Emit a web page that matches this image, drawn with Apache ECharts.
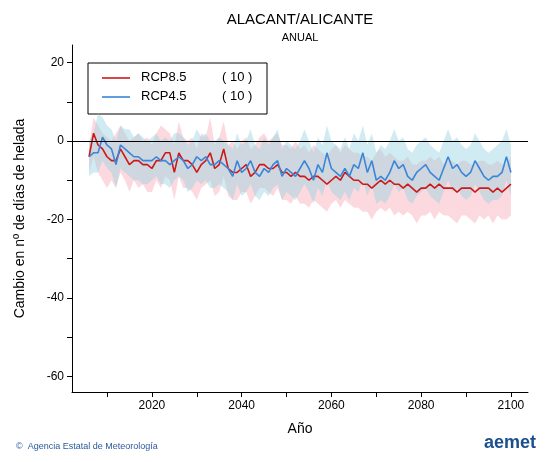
<!DOCTYPE html><html><head><meta charset="utf-8"><script src="https://cdn.jsdelivr.net/npm/echarts@6/dist/echarts.min.js"></script></head><body style="margin:0"><div id="c" style="width:550px;height:462px"></div><script>
const years=[];for(let y=2006;y<=2100;y++)years.push(y);
const r85=[-4,2,-1,-2,-4,-5,-5,-2,-4,-6,-5,-5,-6,-6,-7,-5,-5,-3,-3,-8,-3,-5,-5,-6,-8,-6,-5,-3,-7,-6,-2,-7,-8,-8,-7,-6,-9,-8,-6,-6,-7,-7,-6,-8,-8,-9,-8,-9,-9,-10,-9,-9,-10,-11,-10,-9,-10,-8,-9,-10,-10,-11,-11,-12,-11,-10,-11,-10,-11,-11,-12,-11,-12,-13,-12,-12,-11,-12,-11,-12,-12,-12,-13,-12,-12,-12,-13,-12,-12,-12,-13,-12,-13,-12,-11];
const r85hi=[-1,6,4,2,1,0,2,4,2,0,1,2,0,1,-1,2,4,3,2,-1,5,1,0,1,-2,2,1,6,-1,1,5,-1,0,-2,0,1,-2,-1,1,2,0,1,2,-1,-1,-2,0,-2,-1,-3,-1,-2,-3,-4,-2,-1,-3,-1,-2,-3,-3,-4,-4,-5,-3,-2,-4,-3,-4,-5,-5,-4,-6,-6,-5,-5,-4,-5,-4,-6,-5,-5,-6,-5,-5,-6,-6,-5,-5,-6,-6,-5,-6,-6,-4];
const r85lo=[-8,-4,-8,-10,-12,-10,-12,-8,-10,-13,-10,-12,-11,-13,-13,-10,-12,-9,-10,-15,-9,-12,-12,-13,-15,-12,-11,-10,-14,-13,-9,-14,-15,-15,-13,-13,-16,-14,-12,-12,-13,-14,-12,-15,-15,-16,-14,-16,-16,-17,-15,-16,-17,-18,-16,-15,-17,-15,-16,-17,-17,-18,-18,-20,-18,-17,-18,-17,-19,-18,-19,-18,-19,-21,-19,-19,-18,-20,-18,-19,-19,-20,-21,-19,-19,-20,-21,-19,-20,-19,-21,-19,-20,-20,-19];
const r45=[-4,-3,-3,1,-1,-2,-6,-1,-2,-3,-4,-4,-5,-5,-5,-4,-5,-5,-6,-5,-4,-5,-7,-6,-4,-5,-4,-6,-6,-5,-6,-7,-9,-5,-8,-7,-5,-8,-9,-7,-8,-6,-5,-9,-7,-8,-9,-7,-5,-7,-10,-6,-8,-3,-7,-8,-9,-7,-9,-6,-7,-3,-8,-5,-10,-9,-10,-8,-5,-7,-6,-9,-10,-8,-7,-6,-8,-9,-10,-7,-4,-7,-6,-8,-9,-8,-5,-7,-9,-10,-9,-9,-8,-4,-8];
const r45hi=[0,2,7,6,4,3,0,4,3,3,1,2,1,0,1,2,0,1,0,2,2,1,-1,0,3,1,2,0,0,1,0,-1,-2,2,-1,0,3,-1,-2,1,-1,1,3,-2,0,-1,-2,0,3,0,-3,1,-1,4,0,-1,-2,1,-2,2,0,4,-1,2,-3,-1,-2,0,3,0,1,-2,-3,-1,0,1,-1,-2,-3,0,3,0,1,-1,-2,-1,2,0,-2,-3,-2,-1,0,3,-1];
const r45lo=[-9,-8,-8,-5,-7,-8,-12,-7,-8,-9,-10,-10,-11,-11,-10,-9,-11,-11,-12,-10,-9,-10,-13,-12,-10,-11,-10,-12,-12,-11,-12,-13,-15,-11,-14,-13,-11,-14,-15,-13,-14,-12,-11,-15,-13,-14,-15,-13,-11,-13,-16,-12,-14,-10,-13,-14,-15,-13,-15,-12,-13,-10,-14,-11,-16,-15,-16,-14,-11,-13,-12,-15,-16,-14,-13,-12,-14,-15,-16,-13,-10,-13,-12,-14,-15,-14,-11,-13,-15,-16,-15,-15,-14,-10,-14];
const yTicks=[20,0,-20,-40,-60];
const xTicks=[2020,2040,2060,2080,2100];
const pairs=a=>a.map((v,i)=>[years[i],v]);
function band(lo,hi,color){
 const data=years.map((y,i)=>[y,lo[i],hi[i]]);
 return {type:'custom',silent:true,data:data,encode:{x:0,y:[1,2]},clip:true,
  renderItem:function(params,api){
   if(params.dataIndex!==0)return null;
   const top=[],bot=[];
   for(const d of data){top.push(api.coord([d[0],d[2]]));bot.push(api.coord([d[0],d[1]]));}
   return {type:'polygon',shape:{points:top.concat(bot.reverse())},style:{fill:color,stroke:null}};
  }};
}
const ch=echarts.init(document.getElementById('c'));
const ff='Liberation Sans';
ch.setOption({animation:false,
grid:{left:72,right:22,top:45,bottom:70},
xAxis:{type:'value',min:2002.2,max:2103.8,splitLine:{show:false},axisLine:{onZero:false,lineStyle:{color:'#000'}},
 axisTick:{customValues:[2010,2020,2030,2040,2050,2060,2070,2080,2090,2100],lineStyle:{color:'#000'}},axisLabel:{customValues:xTicks,formatter:v=>String(v),color:'#000',fontSize:12,fontFamily:ff},
 name:'Año',nameLocation:'middle',nameGap:30,nameTextStyle:{fontSize:14,color:'#000',fontFamily:ff}},
yAxis:{type:'value',min:-64,max:24.5,splitLine:{show:false},axisLine:{lineStyle:{color:'#000'}},
 axisTick:{customValues:[20,10,0,-10,-20,-30,-40,-50,-60],lineStyle:{color:'#000'}},axisLabel:{customValues:yTicks,color:'#000',fontSize:12,fontFamily:ff},
 name:'Cambio en nº de días de helada',nameLocation:'middle',nameGap:45,nameTextStyle:{fontSize:14,color:'#000',fontFamily:ff}},
series:[band(r85lo,r85hi,'rgba(248,170,185,0.45)'),band(r45lo,r45hi,'rgba(150,210,225,0.45)'),
{type:'line',name:'RCP8.5',data:pairs(r85),symbol:'none',lineStyle:{color:'#cc1a1a',width:1.6},
 markLine:{silent:true,symbol:'none',label:{show:false},lineStyle:{color:'#000',width:1,type:'solid'},data:[{yAxis:0}]}},
{type:'line',name:'RCP4.5',data:pairs(r45),symbol:'none',lineStyle:{color:'#3a86d8',width:1.6}}],
graphic:[
{type:'text',x:300,y:12,style:{text:'ALACANT/ALICANTE',fontSize:15,fontFamily:ff,fill:'#000',textAlign:'center'}},
{type:'text',x:300,y:32,style:{text:'ANUAL',fontSize:11,fontFamily:ff,fill:'#000',textAlign:'center'}},
{type:'rect',shape:{x:88,y:63,width:179,height:51},style:{fill:'#fff',stroke:'#000',lineWidth:1}},
{type:'line',shape:{x1:102,y1:78,x2:130,y2:78},style:{stroke:'#cc1a1a',lineWidth:1.6}},
{type:'line',shape:{x1:102,y1:97,x2:130,y2:97},style:{stroke:'#3a86d8',lineWidth:1.6}},
{type:'text',x:141,y:71,style:{text:'RCP8.5',fontSize:13,fontFamily:ff,fill:'#000'}},
{type:'text',x:141,y:90,style:{text:'RCP4.5',fontSize:13,fontFamily:ff,fill:'#000'}},
{type:'text',x:222,y:71,style:{text:'( 10 )',fontSize:13,fontFamily:ff,fill:'#000'}},
{type:'text',x:222,y:90,style:{text:'( 10 )',fontSize:13,fontFamily:ff,fill:'#000'}},
{type:'text',x:16,y:442,style:{text:'©  Agencia Estatal de Meteorología',fontSize:9,fontFamily:ff,fill:'#2a5a9a'}},
{type:'text',x:484,y:434,style:{text:'aemet',fontSize:18,fontWeight:'bold',fontFamily:ff,fill:'#1a4f8f'}}
]});
</script></body></html>
